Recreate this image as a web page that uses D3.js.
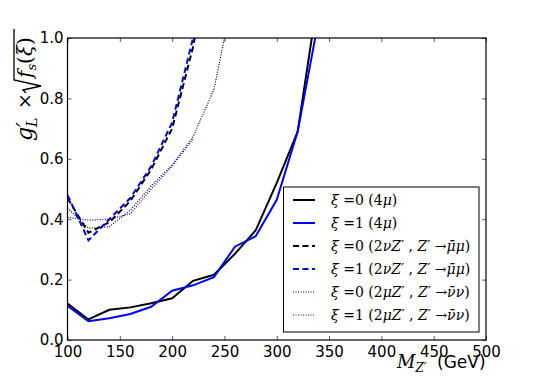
<!DOCTYPE html>
<html>
<head>
<meta charset="utf-8">
<script src="https://cdn.jsdelivr.net/npm/d3@7"></script>
<style>
body{margin:0;background:#fff;}
svg{display:block;}
</style>
</head>
<body>
<script>
// masses (GeV)
var mass = [100,120,140,160,180,200,220,240,260,280,300,320,340];
var massShort = [100,120,140,160,180,200,220,240];
var massDot0 = [100,120,140,160,180,200,220,240,260];
var massDot1 = [100,120,140,160,180,200,220];

var xi0_4mu = [0.121,0.068,0.100,0.108,0.122,0.138,0.196,0.216,0.285,0.364,0.520,0.690,1.15];
var xi1_4mu = [0.113,0.062,0.072,0.086,0.110,0.163,0.181,0.208,0.309,0.344,0.464,0.690,1.06];
var xi0_mumu = [0.470,0.355,0.390,0.460,0.565,0.700,0.970,1.350];
var xi1_mumu = [0.480,0.330,0.400,0.470,0.575,0.720,1.000,1.400];
var xi0_nunu = [0.437,0.370,0.375,0.430,0.510,0.580,0.673,0.830,1.170];
var xi1_nunu = [0.406,0.397,0.400,0.418,0.500,0.575,0.665];

var xTicks = [100,150,200,250,300,350,400,450,500];
var yTicks = [0.0,0.2,0.4,0.6,0.8,1.0];

var labels = [
  "ξ =0 (4μ)",
  "ξ =1 (4μ)",
  "ξ =0 (2νZ′ , Z′ →μ̄μ)",
  "ξ =1 (2νZ′ , Z′ →μ̄μ)",
  "ξ =0 (2μZ′ , Z′ →ν̄ν)",
  "ξ =1 (2μZ′ , Z′ →ν̄ν)"
];

var series = [
  {xs:mass, ys:xi0_4mu, color:'#000', width:2, dash:null},
  {xs:mass, ys:xi1_4mu, color:'#0000ff', width:2, dash:null},
  {xs:massShort, ys:xi0_mumu, color:'#000', width:2, dash:'6,3.5'},
  {xs:massShort, ys:xi1_mumu, color:'#0000ff', width:2, dash:'6,3.5'},
  {xs:massDot0, ys:xi0_nunu, color:'#000', width:1.2, dash:'1,1.5'},
  {xs:massDot1, ys:xi1_nunu, color:'#0000ff', width:1.2, dash:'1,1.5'}
];

var W = 540, H = 378;
var pL = 67.5, pR = 486, pT = 38, pB = 340;

var x = d3.scaleLinear().domain([100,500]).range([pL,pR]);
var y = d3.scaleLinear().domain([0,1]).range([pB,pT]);

var svg = d3.select('body').append('svg').attr('width',W).attr('height',H);

svg.append('defs').append('clipPath').attr('id','clip')
  .append('rect').attr('x',pL).attr('y',pT).attr('width',pR-pL).attr('height',pB-pT);

var line = d3.line().x(function(d){return x(d[0]);}).y(function(d){return y(d[1]);});

var plot = svg.append('g').attr('clip-path','url(#clip)');
series.forEach(function(s){
  plot.append('path')
    .datum(s.xs.map(function(v,i){return [v,s.ys[i]];}))
    .attr('d',line)
    .attr('fill','none')
    .attr('stroke',s.color)
    .attr('stroke-width',s.width)
    .attr('stroke-dasharray',s.dash);
});

// axes, ticks inward on all sides
var xAxisB = d3.axisBottom(x).tickValues(xTicks).tickSizeInner(-4).tickSizeOuter(0).tickPadding(6)
  .tickFormat(d3.format('d'));
var xAxisT = d3.axisTop(x).tickValues(xTicks).tickSizeInner(-4).tickSizeOuter(0).tickFormat('');
var yAxisL = d3.axisLeft(y).tickValues(yTicks).tickSizeInner(-4).tickSizeOuter(0).tickPadding(4)
  .tickFormat(d3.format('.1f'));
var yAxisR = d3.axisRight(y).tickValues(yTicks).tickSizeInner(-4).tickSizeOuter(0).tickFormat('');

svg.append('g').attr('transform','translate(0,'+pB+')').call(xAxisB);
svg.append('g').attr('transform','translate(0,'+pT+')').call(xAxisT);
svg.append('g').attr('transform','translate('+pL+',0)').call(yAxisL);
svg.append('g').attr('transform','translate('+pR+',0)').call(yAxisR);

svg.selectAll('.domain').remove();
svg.selectAll('.tick line').attr('stroke','#333').attr('stroke-width',0.8);
svg.selectAll('.tick text').attr('font-family','DejaVu Sans').attr('font-size',15).attr('fill','#000');

svg.append('rect').attr('x',pL).attr('y',pT).attr('width',pR-pL).attr('height',pB-pT)
  .attr('fill','none').attr('stroke','#000').attr('stroke-width',1.2);

// legend
var lg = svg.append('g');
lg.append('rect').attr('x',283.5).attr('y',187).attr('width',195.5).attr('height',145)
  .attr('fill','#fff').attr('stroke','#000').attr('stroke-width',1);
labels.forEach(function(l,i){
  var yy = 200 + i*23;
  var s = series[i];
  lg.append('line').attr('x1',293).attr('x2',315).attr('y1',yy).attr('y2',yy)
    .attr('stroke',s.color).attr('stroke-width',s.width).attr('stroke-dasharray',s.dash);
  var t = lg.append('text').attr('x',331).attr('y',yy+5)
    .attr('font-family','DejaVu Serif').attr('font-size',14);
  // greek letters and Z in italic, rest upright
  var chunks = l.match(/([ξμνZ]\u0304?|[^ξμνZ]+)/g);
  chunks.forEach(function(c){
    t.append('tspan').attr('font-style',/[ξμνZ]/.test(c)?'italic':'normal').text(c);
  });
});

// x label
var xl = svg.append('text').attr('x',397).attr('y',368);
xl.append('tspan').attr('font-family','DejaVu Serif').attr('font-style','italic').attr('font-size',18).text('M');
xl.append('tspan').attr('font-family','DejaVu Serif').attr('font-style','italic').attr('font-size',12).attr('dy',4).text('Z′');
xl.append('tspan').attr('font-family','DejaVu Sans').attr('font-size',17).attr('dy',-4).attr('x',437).text('(GeV)');

// y label (rotated)
var yl = svg.append('g').attr('transform','translate(32,0) rotate(-90)');
var t1 = yl.append('text').attr('x',-141).attr('y',0)
  .attr('font-family','DejaVu Serif').attr('font-style','italic').attr('font-size',22);
t1.append('tspan').text('g′');
t1.append('tspan').attr('font-size',14).attr('dy',5).attr('dx',-5).text('L');
yl.append('text').attr('x',-109).attr('y',-1).attr('font-family','DejaVu Serif').attr('font-size',19).text('×');
yl.append('path').attr('d','M-93,-6 L-90,-9 L-86,9 L-80,-18 L-29,-18')
  .attr('fill','none').attr('stroke','#000').attr('stroke-width',1.3);
var t2 = yl.append('text').attr('x',-78).attr('y',0)
  .attr('font-family','DejaVu Serif').attr('font-style','italic').attr('font-size',20);
t2.append('tspan').text('f');
t2.append('tspan').attr('font-size',13).attr('dy',4).text('s');
t2.append('tspan').attr('dy',-4).attr('font-style','normal').text('(');
t2.append('tspan').text('ξ');
t2.append('tspan').attr('font-style','normal').text(')');
</script>
</body>
</html>
